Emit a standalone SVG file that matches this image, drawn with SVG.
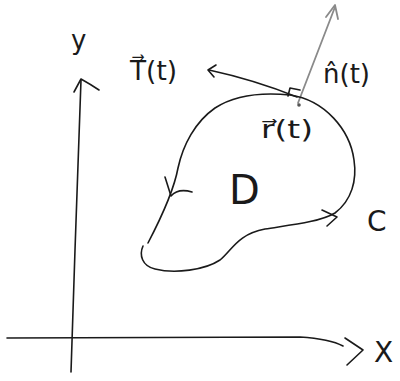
<svg xmlns="http://www.w3.org/2000/svg" width="400" height="381" viewBox="0 0 400 381">
<style>
.ink{fill:none;stroke:#1a1a1a;stroke-width:1.6;stroke-linecap:round;stroke-linejoin:round}
.pencil{fill:none;stroke:#8a8a8a;stroke-width:1.8;stroke-linecap:round;stroke-linejoin:round}
.lbl{font-family:"DejaVu Sans","Liberation Sans",sans-serif;fill:#1a1a1a}
</style>
<rect width="400" height="381" fill="#ffffff"/>
<g id="connectors">
<g id="y-axis">
<path class="ink" d="M71,372 C72,330 74,290 75,250 C77,190 79,130 81,80"/>
<path class="ink" d="M74,92 L81,79 Q90,84 99,90"/>
</g>
<g id="x-axis">
<path class="ink" d="M7,338 L300,337 Q330,339 343,346"/>
<path class="ink" d="M345,338 L363,350 L347,365"/>
</g>
<g id="tangent">
<path class="ink" d="M297,97 Q255,80 209,70"/>
<path class="ink" d="M216,65 L208,70 L214,77"/>
</g>
<g id="normal">
<path class="pencil" d="M298,103 L335,7"/>
<path class="pencil" d="M326,17 L335,5 L338,19"/>
<path class="ink" d="M288,96 L290,88 L300,90"/>
<circle cx="299" cy="105" r="1.8" fill="#555"/>
</g>
</g>
<g id="curve-C">
<path class="ink" d="M143,246 C139,255 142,266 155,269 C175,274 205,270 220,260 C232,250 238,234 265,229 C290,225 320,222 335,213 C352,200 357,180 354,160 C350,130 325,100 290,95 C260,92 235,95 215,108 C195,122 183,145 178,168 C174,190 160,220 148,243"/>
<path class="ink" d="M165,177 L171,196 Q178,188 192,192"/>
<path class="ink" d="M322,210 L337,217 L327,226"/>
</g>
<g id="labels">
<text class="lbl" x="71" y="49" font-size="26">y</text>
<text class="lbl" x="130" y="80" font-size="27" textLength="47" lengthAdjust="spacingAndGlyphs">T⃗(t)</text>
<text class="lbl" x="323" y="83" font-size="27" textLength="47" lengthAdjust="spacingAndGlyphs">n̂(t)</text>
<text class="lbl" x="261" y="138" font-size="25" textLength="52" lengthAdjust="spacingAndGlyphs">r⃗(t)</text>
<text class="lbl" x="229" y="204" font-size="40">D</text>
<text class="lbl" x="367" y="231" font-size="28">C</text>
<text class="lbl" x="374" y="362" font-size="28">X</text>
</g>
</svg>
